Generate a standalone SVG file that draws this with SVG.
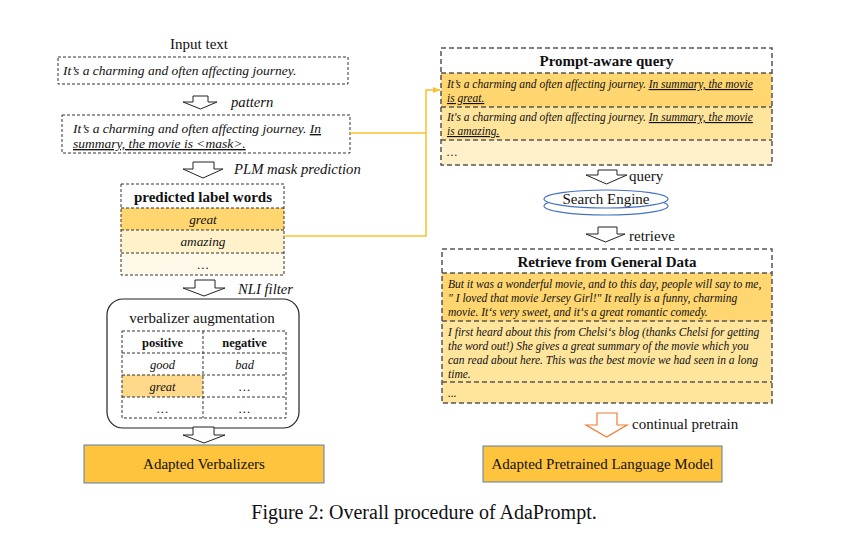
<svg xmlns="http://www.w3.org/2000/svg" width="850" height="542" viewBox="0 0 850 542" font-family="'Liberation Serif','Times New Roman',serif">
<style>
text{font-family:"Liberation Serif","Times New Roman",serif;fill:#111}
.t14{font-size:15px}
.b14{font-size:15px;font-weight:bold}
.i13{font-size:13.5px;font-style:italic}
.i12{font-size:12.5px;font-style:italic}
.i11{font-size:11.5px;font-style:italic}
.lab{font-size:14.7px;font-style:italic}
.mid{text-anchor:middle}
.u{text-decoration:underline}
.dl{fill:none;stroke:#333;stroke-width:1;stroke-dasharray:3 2}
.dr{fill:none;stroke:#555;stroke-width:1.5;stroke-dasharray:5 3}
.arr{fill:#fff;stroke:#222;stroke-width:1}
.oarr{fill:#fff;stroke:#ED7D31;stroke-width:1.2}
.gold{fill:#FFC43D;stroke:#5B7DB1;stroke-width:1}
.con{fill:none;stroke:#FBC02D;stroke-width:1.5}
.y1{fill:#FFD670}
.y2{fill:#FFE49C}
.y3{fill:#FFF0CA}
</style>
<defs>
<marker id="ah" markerWidth="8" markerHeight="8" refX="7" refY="4" orient="auto" markerUnits="userSpaceOnUse">
<path d="M0,1 L7,4 L0,7 z" fill="#FBC02D"/>
</marker>
</defs>
<rect width="850" height="542" fill="#fff"/>

<g id="input-text">
<text class="t14 mid" x="199" y="49">Input text</text>
<rect class="dl" x="58" y="57" width="290" height="27"/>
<text class="i13" x="63" y="75">It’s a charming and often affecting journey.</text>
</g>

<g id="arrow-pattern">
<path class="arr" d="M193,96 H208 V102 H217 L200.5,109 L183,102 H193 Z"/>
<text class="lab" x="231" y="107">pattern</text>
</g>

<g id="pattern-text">
<rect class="dl" x="62" y="115" width="288" height="38"/>
<text class="i13" x="73" y="133">It’s a charming and often affecting journey. <tspan class="u">In</tspan></text>
<text class="i13" x="73" y="148"><tspan class="u">summary, the movie is &lt;mask&gt;.</tspan></text>
</g>

<g id="arrow-plm">
<path class="arr" d="M193,162 H214 V169 H223 L203,178 L183,169 H193 Z"/>
<text class="lab" x="234" y="174">PLM mask prediction</text>
</g>

<g id="predicted-label-words">
<rect x="121" y="208" width="163" height="22" class="y1"/>
<rect x="121" y="230" width="163" height="23" fill="#FFF1C9"/>
<rect x="121" y="253" width="163" height="22" fill="#FFF9EA"/>
<rect class="dl" x="121" y="184" width="163" height="91"/>
<line class="dl" x1="121" y1="208" x2="284" y2="208"/>
<line class="dl" x1="121" y1="230" x2="284" y2="230"/>
<line class="dl" x1="121" y1="253" x2="284" y2="253"/>
<text class="b14 mid" x="203" y="202">predicted label words</text>
<text class="mid" x="203" y="224" style="font-size:13.3px;font-style:italic">great</text>
<text class="mid" x="203" y="246" style="font-size:13.3px;font-style:italic">amazing</text>
<text class="i12 mid" x="203" y="269">…</text>
</g>

<g id="arrow-nli">
<path class="arr" d="M195,280 H215 V288 H225 L204,296 L183,288 H195 Z"/>
<text class="lab" x="238" y="294">NLI filter</text>
</g>

<g id="verbalizer-augmentation">
<rect x="107" y="299" width="192" height="129" rx="16" fill="#fff" stroke="#222" stroke-width="1.2"/>
<text class="t14 mid" x="202" y="323">verbalizer augmentation</text>
<rect x="122" y="375" width="81" height="22" fill="#FFD98A"/>
<rect class="dl" x="122" y="331" width="164" height="87"/>
<line class="dl" x1="203" y1="331" x2="203" y2="418"/>
<line class="dl" x1="122" y1="353" x2="286" y2="353"/>
<line class="dl" x1="122" y1="375" x2="286" y2="375"/>
<line class="dl" x1="122" y1="397" x2="286" y2="397"/>
<text class="mid" x="162.5" y="347" style="font-size:12.5px;font-weight:bold">positive</text>
<text class="mid" x="244.5" y="347" style="font-size:12.5px;font-weight:bold">negative</text>
<text class="i12 mid" x="162.5" y="369">good</text>
<text class="i12 mid" x="244.5" y="369">bad</text>
<text class="i12 mid" x="162.5" y="391">great</text>
<text class="i12 mid" x="244.5" y="391">…</text>
<text class="i12 mid" x="162.5" y="413">…</text>
<text class="i12 mid" x="244.5" y="413">…</text>
</g>

<g id="arrow-verbalizers">
<path class="arr" d="M193,427 H214 V435 H225 L204,443 L183,435 H193 Z"/>
</g>

<g id="adapted-verbalizers">
<rect class="gold" x="84" y="445" width="240" height="38"/>
<text class="t14 mid" x="204" y="469">Adapted Verbalizers</text>
</g>

<g id="prompt-aware-query">
<rect x="441" y="73" width="331" height="34" class="y1"/>
<rect x="441" y="107" width="331" height="33" class="y2"/>
<rect x="441" y="140" width="331" height="25" class="y3"/>
<rect class="dr" x="441" y="48" width="331" height="117"/>
<line class="dr" x1="441" y1="73" x2="772" y2="73"/>
<line class="dr" x1="441" y1="107" x2="772" y2="107"/>
<line class="dr" x1="441" y1="140" x2="772" y2="140"/>
<text class="b14 mid" x="606.5" y="66">Prompt-aware query</text>
<text class="i11" x="447" y="88">It’s a charming and often affecting journey. <tspan class="u">In summary, the movie</tspan></text>
<text class="i11" x="447" y="102"><tspan class="u">is great.</tspan></text>
<text class="i11" x="447" y="121">It's a charming and often affecting journey. <tspan class="u">In summary, the movie</tspan></text>
<text class="i11" x="447" y="135"><tspan class="u">is amazing.</tspan></text>
<text class="i11" x="447" y="156">…</text>
</g>

<g id="arrow-query">
<path class="arr" d="M598,170 H617 V175 H627 L606.5,184 L586,175 H598 Z"/>
<text class="t14" x="629" y="181">query</text>
</g>

<g id="search-engine">
<ellipse cx="606" cy="206" rx="62" ry="9" fill="#fff" stroke="#4472C4" stroke-width="1.2"/>
<ellipse cx="606" cy="199" rx="62" ry="9" fill="#fff" stroke="#4472C4" stroke-width="1.2"/>
<text class="t14 mid" x="606" y="204">Search Engine</text>
</g>

<g id="arrow-retrieve">
<path class="arr" d="M598,227 H617 V234 H625 L605.5,242 L586,234 H598 Z"/>
<text class="t14" x="629" y="241">retrieve</text>
</g>

<g id="retrieve-general-data">
<rect x="442" y="273" width="330" height="48" class="y1"/>
<rect x="442" y="321" width="330" height="61" class="y2"/>
<rect x="442" y="382" width="330" height="21" class="y2"/>
<rect class="dr" x="442" y="249" width="330" height="154"/>
<line class="dr" x1="442" y1="273" x2="772" y2="273"/>
<line class="dr" x1="442" y1="321" x2="772" y2="321"/>
<line class="dr" x1="442" y1="382" x2="772" y2="382"/>
<text class="b14 mid" x="607" y="267">Retrieve from General Data</text>
<text class="i11" x="448" y="288">But it was a wonderful movie, and to this day, people will say to me,</text>
<text class="i11" x="448" y="302">" I loved that movie Jersey Girl!" It really is a funny, charming</text>
<text class="i11" x="448" y="316">movie. It‘s very sweet, and it‘s a great romantic comedy.</text>
<text class="i11" x="448" y="336">I first heard about this from Chelsi‘s blog (thanks Chelsi for getting</text>
<text class="i11" x="448" y="350">the word out!) She gives a great summary of the movie which you</text>
<text class="i11" x="448" y="364">can read about here. This was the best movie we had seen in a long</text>
<text class="i11" x="448" y="378">time.</text>
<text class="i11" x="448" y="397">...</text>
</g>

<g id="arrow-continual">
<path class="oarr" d="M597,413 H617 V425 H627 L606.5,437 L586,425 H597 Z"/>
<text class="t14" x="632" y="429">continual pretrain</text>
</g>

<g id="adapted-plm">
<rect class="gold" x="483" y="446" width="239" height="36"/>
<text class="t14 mid" x="602.5" y="469">Adapted Pretrained Language Model</text>
</g>

<g id="connectors">
<path class="con" d="M350,133 H426"/>
<path class="con" d="M284,236 H426 V90 H440" marker-end="url(#ah)"/>
</g>

<text class="mid" x="424" y="519" style="font-size:20px">Figure 2:  Overall procedure of AdaPrompt.</text>
</svg>
